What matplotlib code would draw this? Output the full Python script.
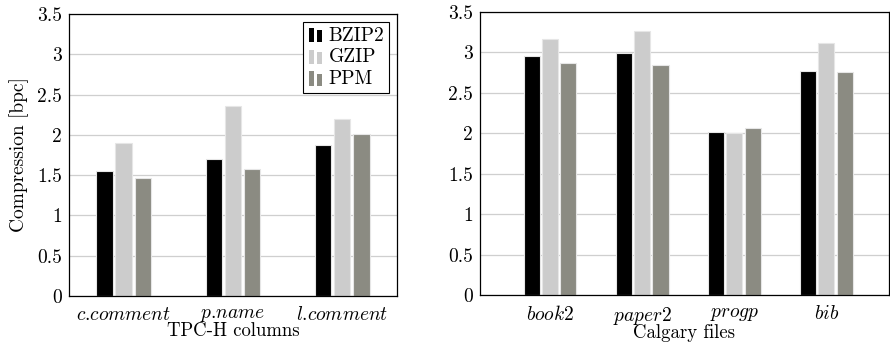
import numpy as np
import matplotlib
matplotlib.use("Agg")
import matplotlib.pyplot as plt
from matplotlib.patches import Rectangle
from matplotlib.container import BarContainer
from matplotlib.legend_handler import HandlerBase

plt.rcParams['font.family'] = 'cmr10'
plt.rcParams['mathtext.fontset'] = 'cm'
plt.rcParams['axes.formatter.use_mathtext'] = True
plt.rcParams['font.size'] = 14

# data
series = ["BZIP2", "GZIP", "PPM"]
colors = ["#000000", "#cccccc", "#8b8b82"]

tpch_cols = [r"$c$.$comment$", r"$p$.$name$", r"$l$.$comment$"]
tpch_bzip2 = [1.55, 1.70, 1.88]
tpch_gzip = [1.90, 2.36, 2.20]
tpch_ppm = [1.47, 1.58, 2.01]

calgary_files = [r"$book2$", r"$paper2$", r"$progp$", r"$bib$"]
cal_bzip2 = [2.96, 2.99, 2.02, 2.77]
cal_gzip = [3.17, 3.26, 2.00, 3.12]
cal_ppm = [2.87, 2.85, 2.06, 2.76]

yticks = [0, 0.5, 1, 1.5, 2, 2.5, 3, 3.5]
ytick_labels = ["0", "0.5", "1", "1.5", "2", "2.5", "3", "3.5"]


class TwoBars(HandlerBase):
    # pgfplots style ybar legend image: two small bars
    def create_artists(self, legend, orig, xd, yd, width, height, fontsize, trans):
        fc = orig.patches[0].get_facecolor()
        w = width * 0.3
        r1 = Rectangle((xd + width * 0.05, yd - height * 0.1), w, height * 1.05,
                       facecolor=fc, edgecolor="none", transform=trans)
        r2 = Rectangle((xd + width * 0.5, yd - height * 0.1), w, height * 0.85,
                       facecolor=fc, edgecolor="none", transform=trans)
        return [r1, r2]


def bar_panel(ax, cats, vals, width, step, xlim):
    x = np.arange(len(cats))
    for i, v in enumerate(vals):
        ax.bar(x + (i - 1) * step, v, width, color=colors[i],
               edgecolor="#e6e6e6", linewidth=0.8, label=series[i], zorder=3)
    ax.set_xlim(*xlim)
    ax.set_ylim(0, 3.5)
    ax.set_yticks(yticks)
    ax.set_yticklabels(ytick_labels)
    ax.set_xticks(x)
    ax.set_xticklabels(cats, fontsize=14)
    ax.tick_params(axis="both", length=0, pad=5)
    ax.tick_params(axis="x", pad=7)
    ax.grid(axis="y", color="#cfcfcf", linewidth=0.9, zorder=0)
    for s in ax.spines.values():
        s.set_linewidth(0.9)
        s.set_zorder(5)


fig = plt.figure(figsize=(8.9, 3.43), dpi=100)

ax1 = fig.add_axes([0.0775, 0.137, 0.3685, 0.822])
bar_panel(ax1, tpch_cols, [tpch_bzip2, tpch_gzip, tpch_ppm], 0.15, 0.175, (-0.5, 2.5))
ax1.set_xlabel("TPC-H columns", fontsize=13.5, labelpad=-1)
ax1.set_ylabel("Compression [bpc]", fontsize=14, labelpad=6)
leg = ax1.legend(loc="upper right", handler_map={BarContainer: TwoBars()},
                 frameon=True, fancybox=False, edgecolor="black", framealpha=1,
                 handlelength=0.9, handletextpad=0.15, borderpad=0.25,
                 labelspacing=0.2, borderaxespad=0.4, fontsize=14)
leg.get_frame().set_linewidth(0.8)
leg.set_zorder(10)

ax2 = fig.add_axes([0.5393, 0.14, 0.4596, 0.825])
bar_panel(ax2, calgary_files, [cal_bzip2, cal_gzip, cal_ppm], 0.175, 0.2, (-0.76, 3.68))
ax2.set_xlabel("Calgary files", fontsize=13.5, labelpad=-2)

fig.savefig("out.png", dpi=100)
